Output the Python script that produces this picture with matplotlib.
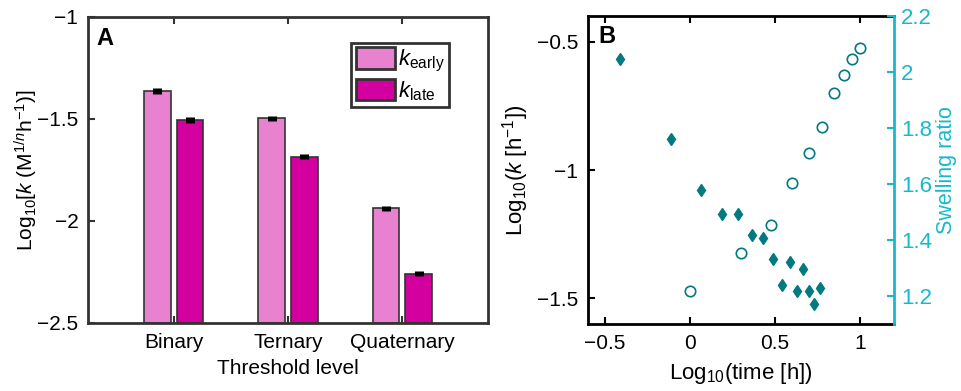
import numpy as np
import matplotlib.pyplot as plt

plt.rcParams['font.family'] = ['Liberation Sans', 'DejaVu Sans']
plt.rcParams['mathtext.fontset'] = 'custom'
plt.rcParams['mathtext.rm'] = 'Liberation Sans'
plt.rcParams['mathtext.it'] = 'Liberation Sans:italic'
plt.rcParams['font.size'] = 15

# Panel A data
levels = ['Binary', 'Ternary', 'Quaternary']
k_early = [-1.363, -1.497, -1.938]
k_late = [-1.505, -1.685, -2.258]
err_early = [0.013, 0.013, 0.013]
err_late = [0.013, 0.013, 0.013]

# Panel B data
log_t_k = [-0.414, -0.113, 0.063, 0.187, 0.281, 0.365, 0.430, 0.490, 0.586,
           0.664, 0.539, 0.627, 0.699, 0.762, 0.730]
log_k = [-0.567, -0.880, -1.076, -1.173, -1.173, -1.252, -1.266, -1.347, -1.358,
         -1.385, -1.449, -1.471, -1.471, -1.460, -1.522]
log_t_sw = [0.0, 0.301, 0.477, 0.602, 0.699, 0.778, 0.845, 0.903, 0.954, 1.0]
swelling = [1.217, 1.354, 1.452, 1.604, 1.709, 1.802, 1.924, 1.989, 2.045, 2.086]

c_early = '#e882d0'
c_late = '#d3009f'
c_teal = '#007a80'
c_cyan = '#18b8cc'
dark = '#333333'

fig = plt.figure(figsize=(9.62, 3.91), dpi=100)
W, H = 962, 391

# ---- Panel A ----
axA = fig.add_axes([88 / W, 1 - 323 / H, (488 - 88) / W, (323 - 17) / H])
x = np.arange(1, 4)
off = 0.144
bw = 0.232
axA.bar(x - off, np.array(k_early) + 2.5, bw, bottom=-2.5, color=c_early,
        edgecolor=dark, linewidth=1.2, label=r'$k_{\rm early}$')
axA.bar(x + off, np.array(k_late) + 2.5, bw, bottom=-2.5, color=c_late,
        edgecolor=dark, linewidth=1.2, label=r'$k_{\rm late}$')
axA.errorbar(x - off, k_early, yerr=err_early, fmt='none', ecolor='black',
             elinewidth=6.5, capsize=0)
axA.errorbar(x + off, k_late, yerr=err_late, fmt='none', ecolor='black',
             elinewidth=6.5, capsize=0)
axA.set_xlim(0.25, 3.75)
axA.set_ylim(-2.5, -1)
axA.set_xticks(x)
axA.set_xticklabels(levels)
axA.set_yticks([-2.5, -2, -1.5, -1])
axA.set_yticklabels(['\u22122.5', '\u22122', '\u22121.5', '\u22121'])
axA.tick_params(direction='in', length=5, width=1.5, colors=dark,
                labelcolor='black', top=True, pad=7, labelsize=15)
for s in axA.spines.values():
    s.set_color(dark)
    s.set_linewidth(2)
axA.set_xlabel('Threshold level', fontsize=15, labelpad=5)
axA.set_ylabel(r'Log$_{10}$[$k$ (M$^{1/n}$h$^{-1}$)]', fontsize=15, labelpad=-2)
axA.text(0.02, 0.93, 'A', transform=axA.transAxes, fontsize=17,
         fontweight='bold', va='center')
leg = axA.legend(loc='upper right', bbox_to_anchor=(0.903, 0.915), fontsize=16,
                 fancybox=False, framealpha=1, handlelength=1.75, handleheight=1.1,
                 handletextpad=0.15, borderpad=0.2, labelspacing=0.2,
                 borderaxespad=0)
leg.get_frame().set_edgecolor(dark)
leg.get_frame().set_linewidth(2)
for p in leg.get_patches():
    p.set_linewidth(2)

# ---- Panel B ----
axB = fig.add_axes([588 / W, 1 - 324 / H, (894 - 588) / W, (324 - 16) / H])
axB.plot(log_t_k, log_k, 'd', color=c_teal, markersize=6, linestyle='none')
axB.set_xlim(-0.6, 1.2)
axB.set_ylim(-1.6, -0.4)
axB.set_xticks([-0.5, 0, 0.5, 1])
axB.set_xticklabels(['\u22120.5', '0', '0.5', '1'])
axB.set_yticks([-1.5, -1, -0.5])
axB.set_yticklabels(['\u22121.5', '\u22121', '\u22120.5'])
axB.tick_params(direction='in', length=5, width=1.5, top=True, right=False,
                pad=7, labelsize=15)
for s in axB.spines.values():
    s.set_linewidth(2)
axB.spines['right'].set_visible(False)
axB.set_xlabel(r'Log$_{10}$(time [h])', fontsize=16, labelpad=6)
axB.set_ylabel(r'Log$_{10}$($k$ [h$^{-1}$])', fontsize=16, labelpad=4)
axB.text(0.035, 0.935, 'B', transform=axB.transAxes, fontsize=17,
         fontweight='bold', va='center')

axB2 = axB.twinx()
axB2.plot(log_t_sw, swelling, 'o', markerfacecolor='none', markeredgecolor=c_teal,
          markersize=7.5, markeredgewidth=1.2, linestyle='none')
axB2.set_ylim(1.1, 2.2)
axB2.set_yticks([1.2, 1.4, 1.6, 1.8, 2.0, 2.2])
axB2.set_yticklabels(['1.2', '1.4', '1.6', '1.8', '2', '2.2'])
axB2.tick_params(direction='in', length=5, width=1.5, colors=c_cyan,
                 labelsize=16, pad=5)
for name in ['left', 'top', 'bottom']:
    axB2.spines[name].set_visible(False)
axB2.spines['right'].set_color(c_cyan)
axB2.spines['right'].set_linewidth(2)
axB2.set_ylabel('Swelling ratio', color=c_cyan, fontsize=15.5, labelpad=3)

fig.savefig('out.png', dpi=100)
